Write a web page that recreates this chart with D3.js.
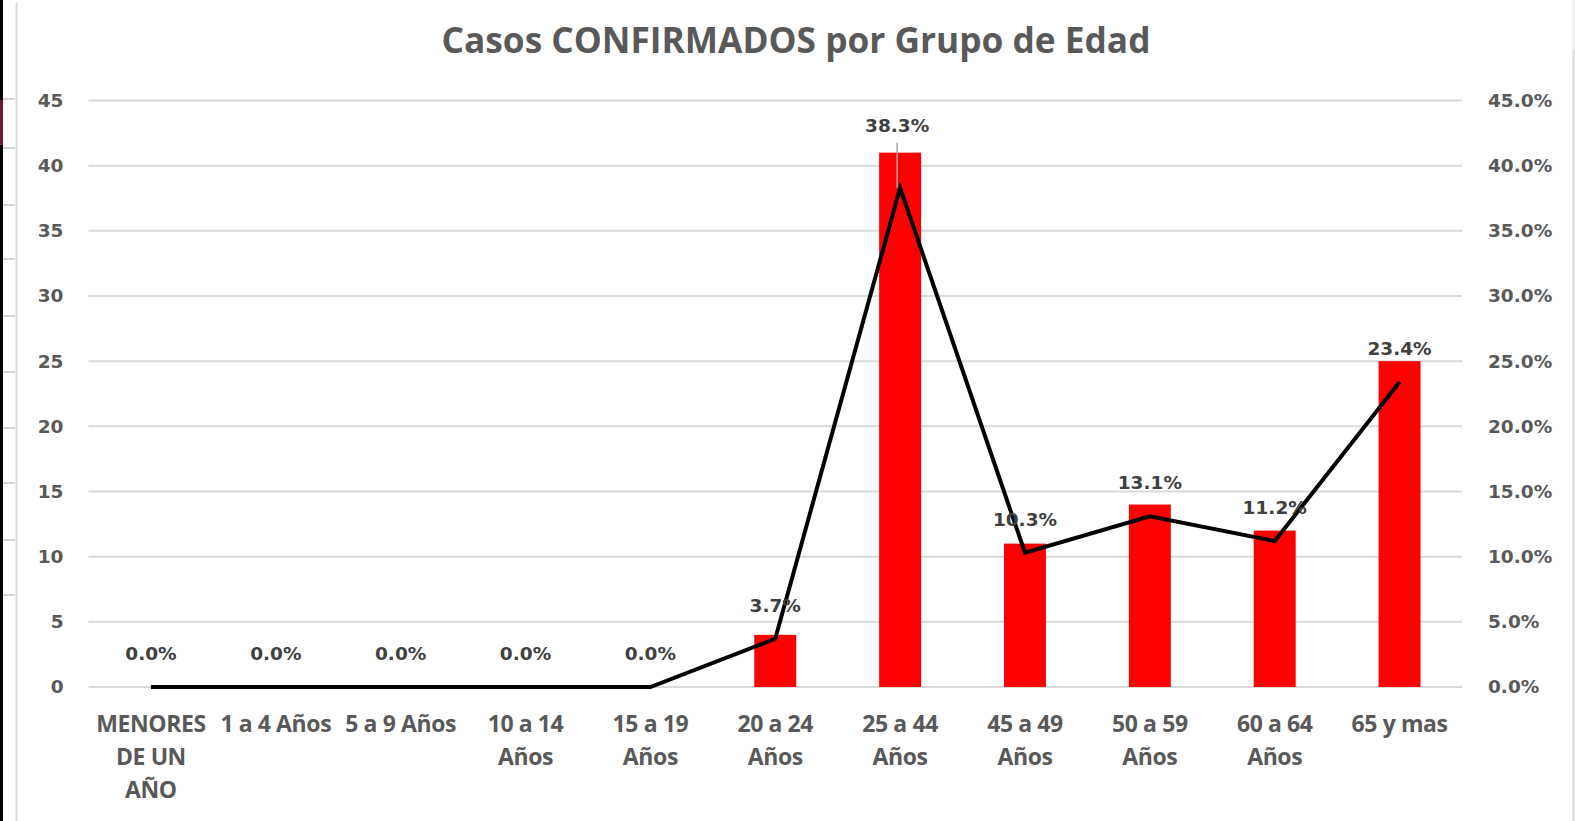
<!DOCTYPE html>
<html>
<head>
<meta charset="utf-8">
<script src="https://cdn.jsdelivr.net/npm/d3@7/dist/d3.min.js"></script>
<style>
  body { margin: 0; background: #fff; }
  svg { display: block; }
</style>
</head>
<body>
<svg id="chart"></svg>
<script>
// Chart data
const categories = ['MENORES DE UN AÑO', '1 a 4 Años', '5 a 9 Años', '10 a 14 Años', '15 a 19 Años',
  '20 a 24 Años', '25 a 44 Años', '45 a 49 Años', '50 a 59 Años', '60 a 64 Años', '65 y mas'];
const categoryLines = [['MENORES', 'DE UN', 'AÑO'], ['1 a 4 Años'], ['5 a 9 Años'], ['10 a 14', 'Años'],
  ['15 a 19', 'Años'], ['20 a 24', 'Años'], ['25 a 44', 'Años'], ['45 a 49', 'Años'],
  ['50 a 59', 'Años'], ['60 a 64', 'Años'], ['65 y mas']];
const casos = [0, 0, 0, 0, 0, 4, 41, 11, 14, 12, 25];
const porcentaje = [0, 0, 0, 0, 0, 3.7, 38.3, 10.3, 13.1, 11.2, 23.4];
const leftTicks = [0, 5, 10, 15, 20, 25, 30, 35, 40, 45];
const rightTicks = [0, 5, 10, 15, 20, 25, 30, 35, 40, 45];
const title = 'Casos CONFIRMADOS por Grupo de Edad';

const width = 1575, height = 821;
const margin = { top: 100.5, right: 113, bottom: 134, left: 88.5 };
const plotW = width - margin.left - margin.right;
const plotH = height - margin.top - margin.bottom;

const svg = d3.select('#chart').attr('width', width).attr('height', height);

// Worksheet edge decorations behind the chart
const edge = svg.append('g');
edge.append('rect').attr('x', 0).attr('y', 0).attr('width', 3).attr('height', height).attr('fill', '#000');
edge.append('rect').attr('x', 0).attr('y', 100).attr('width', 3).attr('height', 45).attr('fill', '#6e1a36');
[99, 148, 205, 259, 316, 372, 428, 483, 540, 595].forEach(y => {
  edge.append('line').attr('x1', 3).attr('x2', 15).attr('y1', y).attr('y2', y)
    .attr('stroke', '#d4d4d4').attr('stroke-width', 2);
});
edge.append('line').attr('x1', 16.5).attr('x2', 16.5).attr('y1', 3).attr('y2', height)
  .attr('stroke', '#d9d9d9').attr('stroke-width', 2);
edge.append('line').attr('x1', 1573.5).attr('x2', 1573.5).attr('y1', 0).attr('y2', 50)
  .attr('stroke', '#ececec').attr('stroke-width', 2);
edge.append('line').attr('x1', 1573.5).attr('x2', 1573.5).attr('y1', 50).attr('y2', height)
  .attr('stroke', '#d9d9d9').attr('stroke-width', 2);

// Title
svg.append('text')
  .attr('x', 796).attr('y', 53)
  .attr('text-anchor', 'middle')
  .attr('textLength', 709).attr('lengthAdjust', 'spacingAndGlyphs')
  .style('font-family', '"Open Sans", sans-serif')
  .style('font-weight', 700)
  .style('font-size', '36px')
  .style('fill', '#595959')
  .text(title);

const g = svg.append('g').attr('transform', `translate(${margin.left},${margin.top})`);

// Scales
const x = d3.scaleBand().domain(categories).range([0, plotW]).paddingInner(0.664).paddingOuter(0.332);
const xc = d => x(d) + x.bandwidth() / 2;
const yLeft = d3.scaleLinear().domain([0, 45]).range([plotH, 0]);
const yRight = d3.scaleLinear().domain([0, 45]).range([plotH, 0]);

// Gridlines
g.append('g')
  .selectAll('line')
  .data(leftTicks)
  .enter().append('line')
  .attr('x1', 0).attr('x2', plotW)
  .attr('y1', d => yLeft(d)).attr('y2', d => yLeft(d))
  .attr('stroke', '#d9d9d9').attr('stroke-width', 2);

// Axes
const tickFont = sel => sel
  .style('font-family', '"DejaVu Sans", sans-serif')
  .style('font-weight', 700)
  .style('font-size', '18.5px')
  .style('fill', '#595959');

const leftAxis = g.append('g')
  .call(d3.axisLeft(yLeft).tickValues(leftTicks).tickSize(0).tickPadding(25));
leftAxis.select('.domain').remove();
leftAxis.selectAll('text').call(tickFont);

const rightAxis = g.append('g')
  .attr('transform', `translate(${plotW},0)`)
  .call(d3.axisRight(yRight).tickValues(rightTicks).tickSize(0).tickPadding(26)
    .tickFormat(d => d3.format('.1f')(d) + '%'));
rightAxis.select('.domain').remove();
rightAxis.selectAll('text').call(tickFont);

const bottomAxis = g.append('g')
  .attr('transform', `translate(0,${plotH})`)
  .call(d3.axisBottom(x).tickSize(0).tickFormat(''));
bottomAxis.select('.domain').remove();
bottomAxis.selectAll('.tick').each(function(d, i) {
  const t = d3.select(this).append('text')
    .attr('text-anchor', 'middle')
    .attr('y', 45)
    .style('font-family', '"Open Sans", sans-serif')
    .style('font-weight', 700)
    .style('font-size', '23px')
    .style('letter-spacing', '-0.4px')
    .style('fill', '#595959');
  categoryLines[i].forEach((line, j) => {
    t.append('tspan').attr('x', 0).attr('dy', j === 0 ? 0 : 33).text(line);
  });
});

// Bars
g.selectAll('.bar')
  .data(categories)
  .enter().append('rect')
  .attr('class', 'bar')
  .attr('x', d => x(d))
  .attr('y', (d, i) => yLeft(casos[i]))
  .attr('width', x.bandwidth())
  .attr('height', (d, i) => plotH - yLeft(casos[i]))
  .attr('fill', '#ff0000');

// Percentage line
const line = d3.line()
  .x((d, i) => xc(categories[i]))
  .y(d => yRight(d));

g.append('path')
  .datum(porcentaje)
  .attr('d', line)
  .attr('fill', 'none')
  .attr('stroke', '#000')
  .attr('stroke-width', 4)
  .attr('stroke-linejoin', 'miter');

// Data labels (the peak label was dragged up in the original, with a leader line)
const movedLabel = 6;
const liftMoved = 62;

g.append('line')
  .attr('x1', xc(categories[movedLabel]) - 3).attr('x2', xc(categories[movedLabel]) - 3)
  .attr('y1', yRight(porcentaje[movedLabel]) - liftMoved + 17)
  .attr('y2', yRight(porcentaje[movedLabel]))
  .attr('stroke', '#a6a6a6').attr('stroke-width', 1.5);

g.selectAll('.label')
  .data(porcentaje)
  .enter().append('text')
  .attr('class', 'label')
  .attr('x', (d, i) => xc(categories[i]) - (i === movedLabel ? 3 : 0))
  .attr('y', (d, i) => yRight(d) - (i === movedLabel ? liftMoved : 33.5))
  .attr('dy', '0.36em')
  .attr('text-anchor', 'middle')
  .style('font-family', '"DejaVu Sans", sans-serif')
  .style('font-weight', 700)
  .style('font-size', '18.5px')
  .style('fill', '#404040')
  .text(d => d3.format('.1f')(d) + '%');
</script>
</body>
</html>
